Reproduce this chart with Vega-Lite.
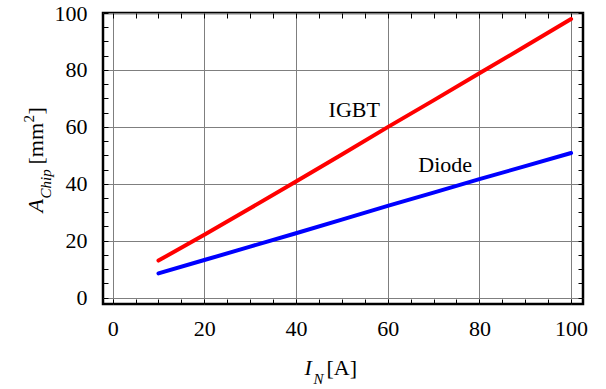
{
  "$schema": "https://vega.github.io/schema/vega-lite/v6.json",
  "autosize": "none",
  "width": 480,
  "height": 291,
  "padding": {"left": 103, "top": 13, "right": 23, "bottom": 85},
  "background": "white",
  "config": {
    "view": {"stroke": "#000000", "strokeWidth": 2.5},
    "font": "Liberation Serif",
    "axis": {
      "labelFont": "Liberation Serif",
      "labelFontSize": 22,
      "labelColor": "#000000",
      "titleFont": "Liberation Serif",
      "titleColor": "#000000",
      "titleFontWeight": "normal",
      "labelFlush": false,
      "labelOverlap": false
    }
  },
  "datasets": {
    "curves": [
      {"I": 10, "A": 13.0, "s": "IGBT"},
      {"I": 20, "A": 22.1, "s": "IGBT"},
      {"I": 30, "A": 31.4, "s": "IGBT"},
      {"I": 40, "A": 40.8, "s": "IGBT"},
      {"I": 50, "A": 50.3, "s": "IGBT"},
      {"I": 60, "A": 59.9, "s": "IGBT"},
      {"I": 70, "A": 69.3, "s": "IGBT"},
      {"I": 80, "A": 78.8, "s": "IGBT"},
      {"I": 90, "A": 88.3, "s": "IGBT"},
      {"I": 100, "A": 97.9, "s": "IGBT"},
      {"I": 10, "A": 8.5, "s": "Diode"},
      {"I": 20, "A": 13.2, "s": "Diode"},
      {"I": 30, "A": 17.9, "s": "Diode"},
      {"I": 40, "A": 22.6, "s": "Diode"},
      {"I": 50, "A": 27.4, "s": "Diode"},
      {"I": 60, "A": 32.2, "s": "Diode"},
      {"I": 70, "A": 36.9, "s": "Diode"},
      {"I": 80, "A": 41.6, "s": "Diode"},
      {"I": 90, "A": 46.2, "s": "Diode"},
      {"I": 100, "A": 50.8, "s": "Diode"}
    ],
    "notes": [
      {"I": 58.3, "A": 63.5, "label": "IGBT"},
      {"I": 78.4, "A": 44.2, "label": "Diode"}
    ]
  },
  "data": {"name": "curves"},
  "resolve": {
    "scale": {"x": "independent", "y": "independent"},
    "axis": {"x": "independent", "y": "independent"}
  },
  "layer": [
    {
      "layer": [
        {
          "mark": {"type": "line", "strokeWidth": 4, "strokeCap": "round", "strokeJoin": "round"},
          "encoding": {
            "x": {"field": "I", "type": "quantitative",
              "scale": {"domain": [-2.1, 102.6], "nice": false, "zero": false},
              "axis": {"orient": "bottom", "values": [0, 20, 40, 60, 80, 100], "grid": true, "gridColor": "#7f7f7f", "gridWidth": 1, "ticks": false, "domain": false, "labelPadding": 14,
                "labelFont": "Liberation Serif", "labelFontSize": 22,
                "title": "I", "titleFont": "Liberation Serif", "titleFontStyle": "italic", "titleFontSize": 22, "titleX": 201, "titleY": 70, "titleAlign": "left", "titleBaseline": "alphabetic", "titleAngle": 0}},
            "y": {"field": "A", "type": "quantitative",
              "scale": {"domain": [-2.25, 100], "nice": false, "zero": false},
              "axis": {"orient": "left", "values": [0, 20, 40, 60, 80, 100], "grid": true, "gridColor": "#7f7f7f", "gridWidth": 1, "ticks": false, "domain": false, "labelPadding": 16,
                "labelFont": "Liberation Serif", "labelFontSize": 22,
                "title": "A", "titleFont": "Liberation Serif", "titleFontStyle": "italic", "titleFontSize": 22, "titleX": -61, "titleY": 199, "titleAlign": "left", "titleBaseline": "alphabetic", "titleAngle": -90}},
            "color": {"field": "s", "type": "nominal", "scale": {"domain": ["IGBT", "Diode"], "range": ["#ff0000", "#0000ff"]}, "legend": null}
          }
        },
        {
          "data": {"name": "notes"},
          "mark": {"type": "text", "align": "right", "baseline": "alphabetic", "font": "Liberation Serif", "fontSize": 22, "color": "#000000"},
          "encoding": {
            "x": {"field": "I", "type": "quantitative"},
            "y": {"field": "A", "type": "quantitative"},
            "text": {"field": "label"}
          }
        }
      ]
    },
    {
      "mark": {"type": "line", "opacity": 0},
      "encoding": {
        "x": {"field": "I", "type": "quantitative",
          "scale": {"domain": [-2.1, 102.6], "nice": false, "zero": false},
          "axis": {"orient": "top", "values": [0,5,10,15,20,25,30,35,40,45,50,55,60,65,70,75,80,85,90,95,100], "labels": false, "grid": false, "domain": false, "tickSize": -5, "tickColor": "#000000", "tickWidth": 1, "title": null}},
        "y": {"field": "A", "type": "quantitative",
          "scale": {"domain": [-2.25, 100], "nice": false, "zero": false},
          "axis": {"orient": "right", "values": [0,5,10,15,20,25,30,35,40,45,50,55,60,65,70,75,80,85,90,95,100], "labels": false, "grid": false, "domain": false, "tickSize": -5, "tickColor": "#000000", "tickWidth": 1, "title": null}}
      }
    },
    {
      "mark": {"type": "line", "opacity": 0},
      "encoding": {
        "x": {"field": "I", "type": "quantitative",
          "scale": {"domain": [-2.1, 102.6], "nice": false, "zero": false},
          "axis": {"orient": "bottom", "values": [0,5,10,15,20,25,30,35,40,45,50,55,60,65,70,75,80,85,90,95,100], "labels": false, "grid": false, "domain": false, "tickSize": -5, "tickColor": "#000000", "tickWidth": 1,
            "title": "N", "titleFont": "Liberation Serif", "titleFontStyle": "italic", "titleFontSize": 15, "titleX": 210, "titleY": 79, "titleAlign": "left", "titleBaseline": "alphabetic", "titleAngle": 0}},
        "y": {"field": "A", "type": "quantitative",
          "scale": {"domain": [-2.25, 100], "nice": false, "zero": false},
          "axis": {"orient": "left", "values": [0,5,10,15,20,25,30,35,40,45,50,55,60,65,70,75,80,85,90,95,100], "labels": false, "grid": false, "domain": false, "tickSize": -5, "tickColor": "#000000", "tickWidth": 1,
            "title": "Chip", "titleFont": "Liberation Serif", "titleFontStyle": "italic", "titleFontSize": 15, "titleX": -53, "titleY": 185, "titleAlign": "left", "titleBaseline": "alphabetic", "titleAngle": -90}}
      }
    },
    {
      "mark": {"type": "line", "opacity": 0},
      "encoding": {
        "x": {"field": "I", "type": "quantitative",
          "scale": {"domain": [-2.1, 102.6], "nice": false, "zero": false},
          "axis": {"orient": "bottom", "labels": false, "ticks": false, "grid": false, "domain": false,
            "title": "[A]", "titleFont": "Liberation Serif", "titleFontSize": 22, "titleX": 223, "titleY": 70, "titleAlign": "left", "titleBaseline": "alphabetic", "titleAngle": 0}},
        "y": {"field": "A", "type": "quantitative",
          "scale": {"domain": [-2.25, 100], "nice": false, "zero": false},
          "axis": {"orient": "left", "labels": false, "ticks": false, "grid": false, "domain": false,
            "title": "[mm", "titleFont": "Liberation Serif", "titleFontSize": 22, "titleX": -61, "titleY": 151, "titleAlign": "left", "titleBaseline": "alphabetic", "titleAngle": -90}}
      }
    },
    {
      "mark": {"type": "line", "opacity": 0},
      "encoding": {
        "x": {"field": "I", "type": "quantitative",
          "scale": {"domain": [-2.1, 102.6], "nice": false, "zero": false}, "axis": null},
        "y": {"field": "A", "type": "quantitative",
          "scale": {"domain": [-2.25, 100], "nice": false, "zero": false},
          "axis": {"orient": "left", "labels": false, "ticks": false, "grid": false, "domain": false,
            "title": "2", "titleFont": "Liberation Serif", "titleFontSize": 15, "titleX": -70, "titleY": 109, "titleAlign": "left", "titleBaseline": "alphabetic", "titleAngle": -90}}
      }
    },
    {
      "mark": {"type": "line", "opacity": 0},
      "encoding": {
        "x": {"field": "I", "type": "quantitative",
          "scale": {"domain": [-2.1, 102.6], "nice": false, "zero": false}, "axis": null},
        "y": {"field": "A", "type": "quantitative",
          "scale": {"domain": [-2.25, 100], "nice": false, "zero": false},
          "axis": {"orient": "left", "labels": false, "ticks": false, "grid": false, "domain": false,
            "title": "]", "titleFont": "Liberation Serif", "titleFontSize": 22, "titleX": -61, "titleY": 101, "titleAlign": "left", "titleBaseline": "alphabetic", "titleAngle": -90}}
      }
    }
  ]
}
